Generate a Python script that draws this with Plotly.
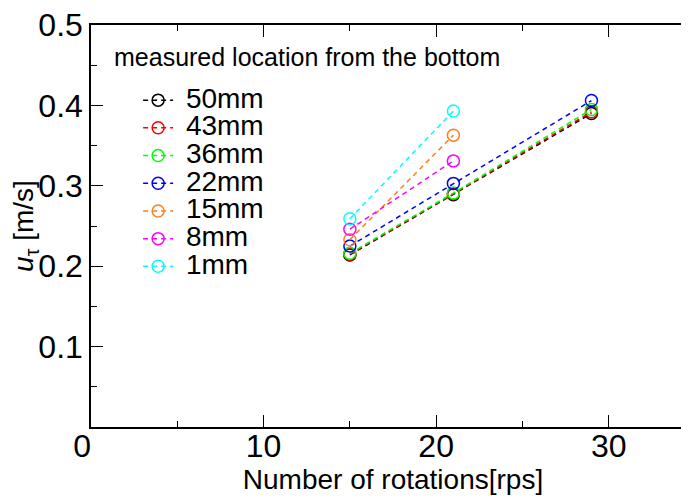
import plotly.graph_objects as go

rotations = [15, 21, 29]
labels = ["50mm", "43mm", "36mm", "22mm", "15mm", "8mm", "1mm"]
colors = ["#000000", "#ff0000", "#00ff00", "#0000ff", "#ff8020", "#ff00ff", "#00ffff"]
u_50 = [0.214, 0.289, 0.390]
u_43 = [0.215, 0.290, 0.392]
u_36 = [0.216, 0.291, 0.395]
u_22 = [0.225, 0.303, 0.406]
u_15 = [0.233, 0.363]
u_8 = [0.246, 0.331]
u_1 = [0.259, 0.393]
series = [u_50, u_43, u_36, u_22, u_15, u_8, u_1]
x_ticks = [0, 10, 20, 30]
x_ticktext = ["0\u00a0\u00a0", "10", "20", "30"]
y_ticks = [0.1, 0.2, 0.3, 0.4, 0.5]
y_ticktext = ["0.1", "0.2", "0.3", "0.4", "0.5"]

FONT = "Arial, Liberation Sans, sans-serif"

# the page body has an 8px margin, so the figure is offset by (8, 8) in the window
L, T, W, H = 83, 17, 604, 402

fig = go.Figure()
for name, col, vals in zip(labels, colors, series):
    fig.add_trace(go.Scatter(
        x=rotations[:len(vals)], y=vals, mode="lines+markers",
        name='<span style="font-size:28px">\u00a0' + name + '</span>',
        line=dict(color=col, width=1.5, dash="5px,4px"),
        marker=dict(symbol="circle-open", size=12, color=col, line=dict(width=1.5, color=col)),
    ))

fig.update_layout(
    width=689, height=500,
    margin=dict(l=L, r=689 - L - W, t=T, b=500 - T - H, autoexpand=False),
    paper_bgcolor="white", plot_bgcolor="white",
    font=dict(family=FONT, color="black"),
    showlegend=True,
    legend=dict(x=0.078, y=0.86, xanchor="left", yanchor="top",
                font=dict(size=19, family=FONT), bgcolor="rgba(0,0,0,0)",
                borderwidth=0, tracegroupgap=0),
    xaxis=dict(range=[0, 35], tickvals=x_ticks, ticktext=x_ticktext,
               ticks="inside", ticklen=12, tickwidth=1, tickcolor="black",
               minor=dict(dtick=5, tick0=0, ticks="inside", ticklen=6, tickcolor="black"),
               showline=True, linecolor="black", linewidth=1.5, mirror="ticks",
               showgrid=False, zeroline=False, automargin=False,
               tickfont=dict(size=32, family=FONT), ticklabelstandoff=-10,
               ticklabeloverflow="allow",
               title=dict(text="Number of rotations[rps]", font=dict(size=28, family=FONT), standoff=0)),
    yaxis=dict(range=[0, 0.5], tickvals=y_ticks, ticktext=y_ticktext,
               ticks="inside", ticklen=12, tickwidth=1, tickcolor="black",
               minor=dict(dtick=0.05, tick0=0, ticks="inside", ticklen=6, tickcolor="black"),
               showline=True, linecolor="black", linewidth=1.5, mirror="ticks",
               showgrid=False, zeroline=False, automargin=False,
               tickfont=dict(size=32, family=FONT), ticklabeloverflow="allow",
               title=dict(text="<i>u</i><sub>τ</sub> [m/s]", font=dict(size=28, family=FONT), standoff=6)),
)
fig.add_annotation(xref="paper", yref="paper", x=(112 - 91) / W, y=(427 - 57) / H,
                   xanchor="left", yanchor="middle", showarrow=False,
                   text="measured location from the bottom", font=dict(size=25, family=FONT))

fig.write_html("out.html")
